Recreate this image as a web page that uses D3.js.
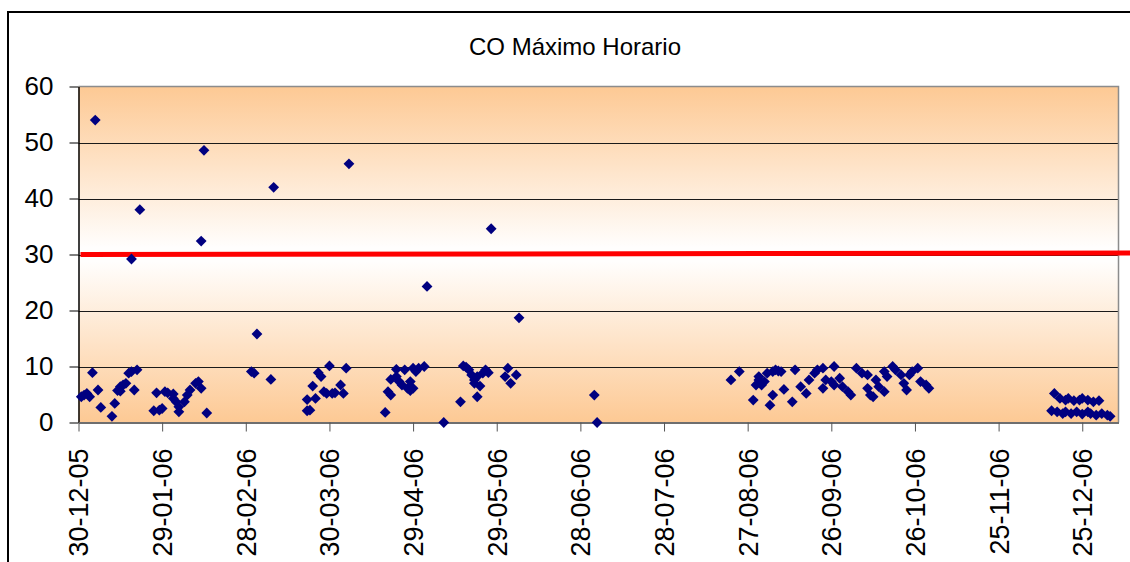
<!DOCTYPE html>
<html>
<head>
<meta charset="utf-8">
<script src="https://cdn.jsdelivr.net/npm/d3@7"></script>
<style>
  html, body { margin: 0; padding: 0; background: #ffffff; }
  svg { display: block; font-family: "Liberation Sans", Arial, sans-serif; }
</style>
</head>
<body>
<svg id="chart" width="1130" height="562"></svg>
<script>
// Daily maximum hourly CO, grouped by measurement campaign: [date, value]
const campanaEneroFebrero = [
  ["2005-12-31", 4.6], ["2006-01-01", 4.9], ["2006-01-02", 5.2], ["2006-01-03", 4.6],
  ["2006-01-04", 8.9], ["2006-01-05", 54.0], ["2006-01-06", 5.8], ["2006-01-07", 2.7],
  ["2006-01-11", 1.1], ["2006-01-12", 3.4], ["2006-01-13", 5.7], ["2006-01-14", 6.4],
  ["2006-01-14", 5.6], ["2006-01-15", 6.7], ["2006-01-16", 7.0], ["2006-01-17", 8.8],
  ["2006-01-18", 29.2], ["2006-01-18", 9.1], ["2006-01-19", 5.8], ["2006-01-20", 9.4],
  ["2006-01-21", 38.0], ["2006-01-26", 2.1], ["2006-01-27", 5.3], ["2006-01-28", 2.2],
  ["2006-01-29", 2.5], ["2006-01-30", 5.5], ["2006-01-31", 5.3], ["2006-02-02", 5.1],
  ["2006-02-02", 4.3], ["2006-02-03", 3.7], ["2006-02-04", 2.8], ["2006-02-04", 1.9],
  ["2006-02-06", 3.7], ["2006-02-07", 4.9], ["2006-02-08", 5.8], ["2006-02-10", 7.0],
  ["2006-02-11", 7.3], ["2006-02-12", 6.1], ["2006-02-12", 32.4], ["2006-02-13", 48.6],
  ["2006-02-14", 1.7]
];
const campanaMarzo = [
  ["2006-03-02", 9.1], ["2006-03-03", 8.8], ["2006-03-04", 15.8], ["2006-03-09", 7.7],
  ["2006-03-10", 42.0]
];
const campanaMarzoAbril = [
  ["2006-03-22", 2.1], ["2006-03-22", 4.1], ["2006-03-23", 2.2], ["2006-03-24", 6.5],
  ["2006-03-25", 4.3], ["2006-03-26", 8.9], ["2006-03-27", 8.2], ["2006-03-28", 5.5],
  ["2006-03-29", 5.2], ["2006-03-30", 10.1], ["2006-03-31", 5.2], ["2006-04-01", 5.3],
  ["2006-04-03", 6.7], ["2006-04-04", 5.2], ["2006-04-05", 9.7], ["2006-04-06", 46.2]
];
const campanaAbrilMayo = [
  ["2006-04-19", 1.8], ["2006-04-20", 5.5], ["2006-04-21", 4.9], ["2006-04-21", 7.7],
  ["2006-04-23", 9.5], ["2006-04-23", 8.2], ["2006-04-24", 7.3], ["2006-04-25", 6.7],
  ["2006-04-26", 9.4], ["2006-04-27", 6.1], ["2006-04-28", 5.7], ["2006-04-28", 7.3],
  ["2006-04-29", 9.7], ["2006-04-29", 6.1], ["2006-04-30", 9.1], ["2006-05-01", 9.7],
  ["2006-05-03", 10.0], ["2006-05-04", 24.3], ["2006-05-10", 0.0]
];
const campanaMayoJunio = [
  ["2006-05-16", 3.7], ["2006-05-17", 10.1], ["2006-05-18", 9.9], ["2006-05-19", 9.4],
  ["2006-05-20", 8.5], ["2006-05-21", 7.6], ["2006-05-21", 7.0], ["2006-05-22", 4.6],
  ["2006-05-22", 8.2], ["2006-05-23", 6.5], ["2006-05-24", 8.8], ["2006-05-25", 9.4],
  ["2006-05-26", 8.9], ["2006-05-27", 34.6], ["2006-06-01", 8.2], ["2006-06-02", 9.7],
  ["2006-06-03", 7.0], ["2006-06-05", 8.5], ["2006-06-06", 18.7]
];
const campanaJulio = [
  ["2006-07-03", 4.9], ["2006-07-04", 0.0]
];
const campanaAgostoOctubre = [
  ["2006-08-21", 7.6], ["2006-08-24", 9.1], ["2006-08-29", 4.0], ["2006-08-30", 6.7],
  ["2006-08-31", 7.6], ["2006-08-31", 8.2], ["2006-09-01", 6.7], ["2006-09-02", 7.3],
  ["2006-09-03", 8.8], ["2006-09-04", 3.1], ["2006-09-05", 9.1], ["2006-09-05", 4.9],
  ["2006-09-06", 9.4], ["2006-09-07", 9.2], ["2006-09-08", 9.1], ["2006-09-09", 5.9],
  ["2006-09-12", 3.7], ["2006-09-13", 9.4], ["2006-09-15", 6.4], ["2006-09-17", 5.2],
  ["2006-09-18", 7.6], ["2006-09-20", 8.8], ["2006-09-21", 9.4], ["2006-09-23", 9.7],
  ["2006-09-23", 6.1], ["2006-09-24", 7.6], ["2006-09-26", 7.3], ["2006-09-27", 10.0],
  ["2006-09-27", 6.7], ["2006-09-29", 7.9], ["2006-09-30", 6.4], ["2006-10-02", 5.5],
  ["2006-10-03", 4.9], ["2006-10-05", 9.7], ["2006-10-07", 8.8], ["2006-10-09", 8.5],
  ["2006-10-09", 6.1], ["2006-10-10", 4.9], ["2006-10-11", 4.6], ["2006-10-12", 7.6],
  ["2006-10-13", 6.4], ["2006-10-15", 5.5], ["2006-10-15", 9.1], ["2006-10-16", 8.2],
  ["2006-10-18", 10.0], ["2006-10-19", 9.4], ["2006-10-21", 8.5], ["2006-10-22", 7.0],
  ["2006-10-23", 5.8], ["2006-10-24", 8.5], ["2006-10-25", 9.1], ["2006-10-27", 9.7],
  ["2006-10-28", 7.3], ["2006-10-30", 6.7], ["2006-10-31", 6.1]
];
const campanaDiciembre = [
  ["2006-12-14", 2.1], ["2006-12-15", 5.2], ["2006-12-16", 1.9], ["2006-12-17", 4.3],
  ["2006-12-18", 1.6], ["2006-12-19", 4.0], ["2006-12-19", 1.9], ["2006-12-20", 4.3],
  ["2006-12-21", 1.6], ["2006-12-22", 3.9], ["2006-12-23", 1.9], ["2006-12-24", 4.0],
  ["2006-12-25", 4.3], ["2006-12-25", 1.5], ["2006-12-27", 4.0], ["2006-12-27", 1.9],
  ["2006-12-28", 1.6], ["2006-12-29", 3.7], ["2006-12-30", 1.3], ["2006-12-31", 3.9],
  ["2007-01-01", 1.6], ["2007-01-03", 1.3], ["2007-01-04", 1.1]
];

// Axis labels and limits
const etiquetasFecha = ["30-12-05", "29-01-06", "28-02-06", "30-03-06", "29-04-06", "29-05-06",
  "28-06-06", "28-07-06", "27-08-06", "26-09-06", "26-10-06", "25-11-06", "25-12-06"];
const rangoFechas = ["30-12-05", "07-01-07"];
const marcasY = [0, 10, 20, 30, 40, 50, 60];
const limiteNorma = 30;
const titulo = "CO Máximo Horario";

const parseISO = d3.utcParse("%Y-%m-%d");
const parseEtiqueta = d3.utcParse("%d-%m-%y");

const datos = [].concat(
  campanaEneroFebrero, campanaMarzo, campanaMarzoAbril, campanaAbrilMayo,
  campanaMayoJunio, campanaJulio, campanaAgostoOctubre, campanaDiciembre
).map(([f, v]) => ({ fecha: parseISO(f), valor: v }));

const svg = d3.select("#chart");
const W = 1130, H = 562;
const plot = { left: 78.5, right: 1118.5, top: 86.5, bottom: 422.5 };

const x = d3.scaleUtc()
  .domain(rangoFechas.map(parseEtiqueta))
  .range([plot.left, plot.right]);
const y = d3.scaleLinear()
  .domain([d3.min(marcasY), d3.max(marcasY)])
  .range([plot.bottom, plot.top]);

// Outer chart frame
svg.append("rect")
  .attr("x", 8).attr("y", 12)
  .attr("width", W + 20).attr("height", H + 20)
  .attr("fill", "#ffffff").attr("stroke", "#000000").attr("stroke-width", 2);

// Plot-area gradient: orange at the edges, white in the middle
const defs = svg.append("defs");
const grad = defs.append("linearGradient")
  .attr("id", "fondo").attr("x1", 0).attr("y1", 0).attr("x2", 0).attr("y2", 1);
grad.append("stop").attr("offset", "0%").attr("stop-color", "#fdc994");
grad.append("stop").attr("offset", "48%").attr("stop-color", "#fffefd");
grad.append("stop").attr("offset", "52%").attr("stop-color", "#fffefd");
grad.append("stop").attr("offset", "100%").attr("stop-color", "#fdc994");

svg.append("rect")
  .attr("x", plot.left).attr("y", plot.top)
  .attr("width", plot.right - plot.left).attr("height", plot.bottom - plot.top)
  .attr("fill", "url(#fondo)");

// Horizontal gridlines
svg.append("g")
  .selectAll("line")
  .data(marcasY.filter(v => v > 0 && v < d3.max(marcasY)))
  .join("line")
  .attr("x1", plot.left).attr("x2", plot.right)
  .attr("y1", d => Math.round(y(d)) + 0.5).attr("y2", d => Math.round(y(d)) + 0.5)
  .attr("stroke", "#1a1a1a").attr("stroke-width", 1);

// Plot border (top and right)
svg.append("path")
  .attr("d", `M${plot.left},${plot.top}H${plot.right}V${plot.bottom}`)
  .attr("fill", "none").attr("stroke", "#8c8c8c").attr("stroke-width", 1.5);

// Y axis
const yAxis = svg.append("g")
  .attr("transform", `translate(${plot.left},0)`)
  .call(d3.axisLeft(y).tickValues(marcasY).tickSize(9).tickPadding(16).tickSizeOuter(0));
yAxis.select(".domain").attr("stroke", "#000").attr("stroke-width", 1.5);
yAxis.selectAll(".tick line").attr("stroke", "#000");
yAxis.selectAll(".tick text")
  .attr("font-size", 26).attr("fill", "#000")
  .attr("font-family", "'Liberation Sans', Arial, sans-serif");

// X axis
const xAxis = svg.append("g")
  .attr("transform", `translate(0,${plot.bottom})`)
  .call(d3.axisBottom(x)
    .tickValues(etiquetasFecha.map(parseEtiqueta))
    .tickFormat(d3.utcFormat("%d-%m-%y"))
    .tickSize(9).tickSizeOuter(0));
xAxis.select(".domain").attr("stroke", "#6e6e6e").attr("stroke-width", 2);
xAxis.selectAll(".tick line").attr("stroke", "#555");
xAxis.selectAll(".tick text")
  .attr("font-size", 27).attr("fill", "#000")
  .attr("font-family", "'Liberation Sans', Arial, sans-serif")
  .attr("text-anchor", "end")
  .attr("dy", "0.35em")
  .attr("x", 0).attr("y", 0)
  .attr("transform", "translate(0,26) rotate(-90)");

// Reference limit line
svg.append("line")
  .attr("x1", plot.left + 2).attr("x2", W)
  .attr("y1", y(limiteNorma)).attr("y2", y(limiteNorma) - 1.5)
  .attr("stroke", "#ff0000").attr("stroke-width", 5);

// Data markers (diamonds)
const s = 5.4;
svg.append("g")
  .selectAll("path")
  .data(datos)
  .join("path")
  .attr("transform", d => `translate(${x(d.fecha)},${y(d.valor)})`)
  .attr("d", `M0,${-s}L${s},0L0,${s}L${-s},0Z`)
  .attr("fill", "#000080");

// Title
svg.append("text")
  .attr("x", 575).attr("y", 55)
  .attr("text-anchor", "middle")
  .attr("font-size", 24)
  .attr("fill", "#000")
  .text(titulo);
</script>
</body>
</html>
